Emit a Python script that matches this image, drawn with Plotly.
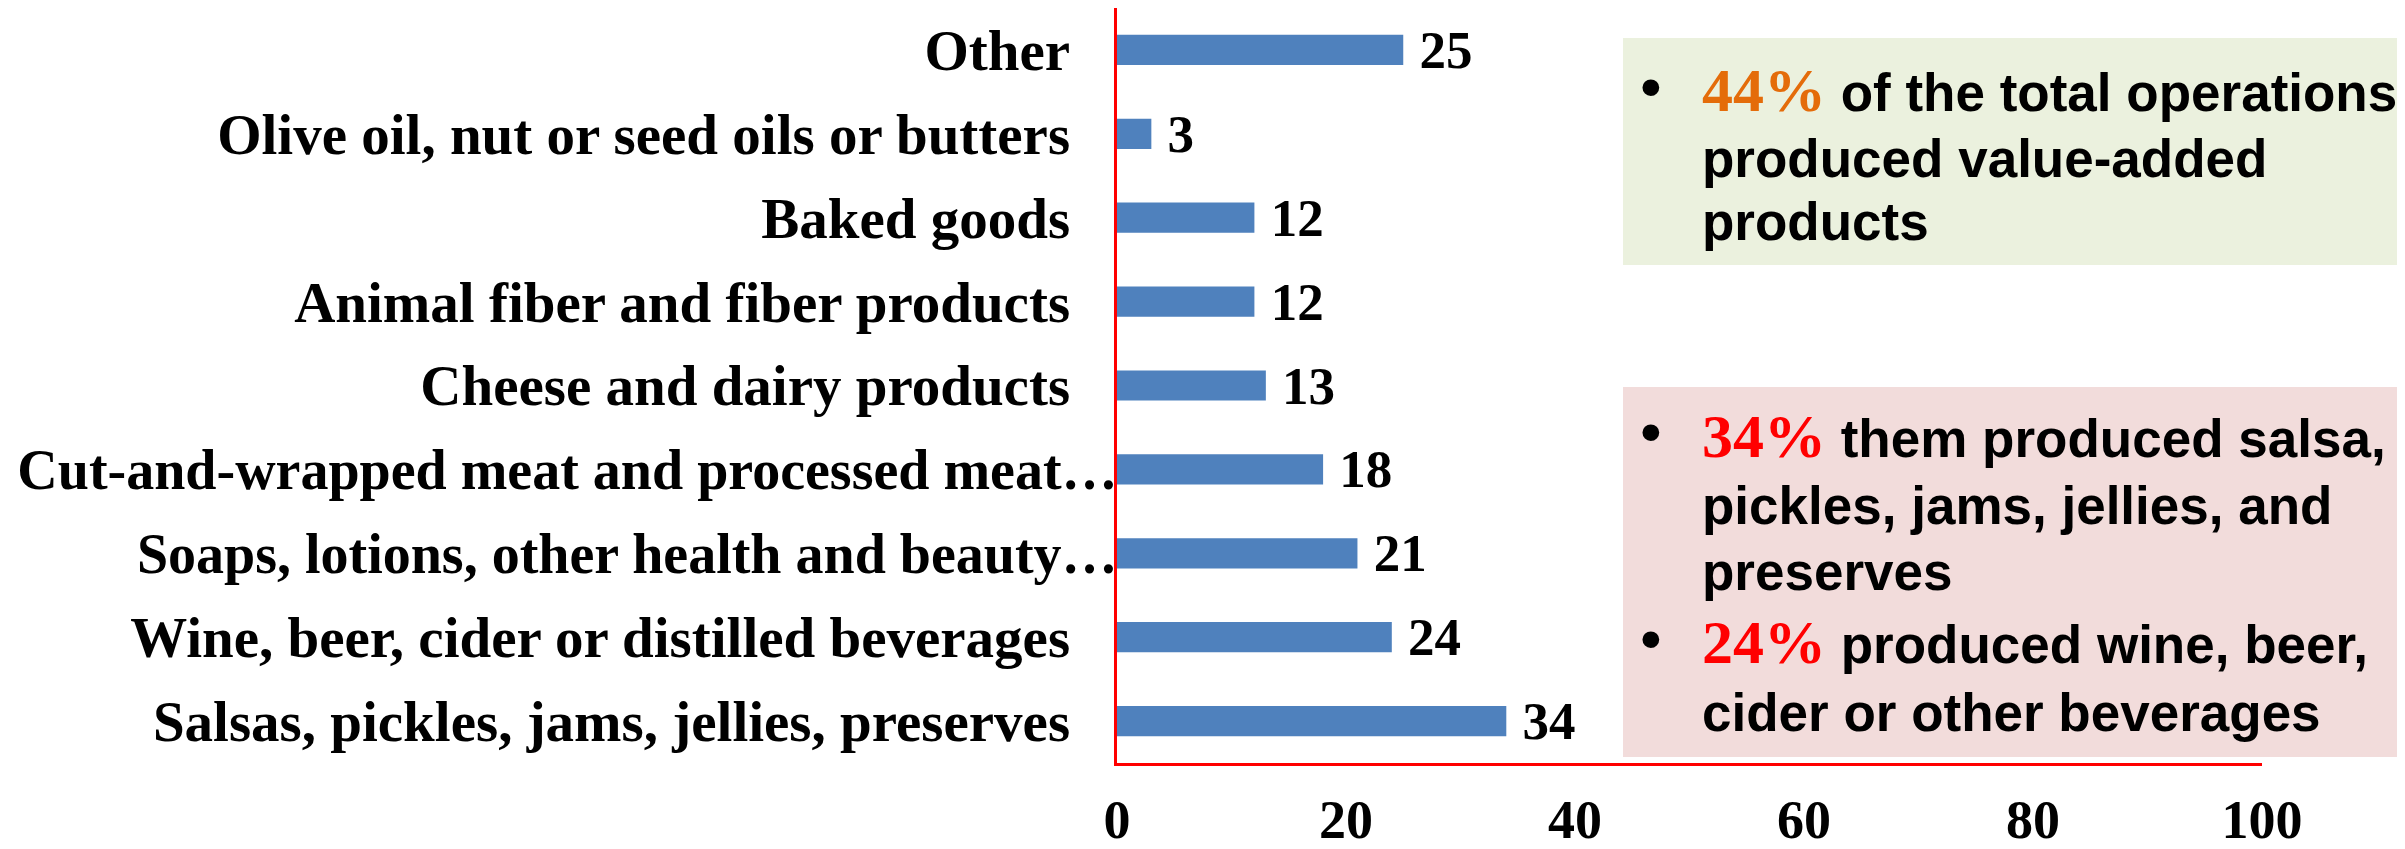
import plotly.graph_objects as go

# ---------------- data (bottom to top) ----------------
categories = [
    "Salsas, pickles, jams, jellies, preserves",
    "Wine, beer, cider or distilled beverages",
    "Soaps, lotions, other health and beauty…",
    "Cut-and-wrapped meat and processed meat…",
    "Cheese and dairy products",
    "Animal fiber and fiber products",
    "Baked goods",
    "Olive oil, nut or seed oils or butters",
    "Other",
]
values = [34, 24, 21, 18, 13, 12, 12, 3, 25]
x_ticks = [0, 20, 40, 60, 80, 100]

green_lines = [("44%", "of the total operations"), ("", "produced value-added"), ("", "products")]
pink_lines = [
    ("34%", "them produced salsa,"),
    ("", "pickles, jams, jellies, and"),
    ("", "preserves"),
    ("24%", "produced wine, beer,"),
    ("", "cider or other beverages"),
]
green_pct_color = "#E46C0A"
pink_pct_color = "#FF0000"

# ---------------- layout geometry ----------------
# page has an 8px body margin, so the figure is 8px smaller and all page
# coordinates below are converted to figure coordinates.
OFF = 8
FW, FH = 2405 - OFF, 849 - OFF
L, R, T, B = 1109, 143, 0, 86
pw, ph = FW - L - R, FH - T - B


def px_x(x_page):
    return (x_page - OFF - L) / pw


def px_y(y_page):
    return (FH - B - (y_page - OFF)) / ph


SERIF = "Liberation Serif, Times New Roman, serif"
SANS = "Liberation Sans, Arial, sans-serif"

pad = "\u2002\u2004"
ticktext = [
    f"<span style='font-size:56px'>{c}</span>" if c.endswith("…") else c + pad
    for c in categories
]

fig = go.Figure(
    go.Bar(
        y=categories,
        x=values,
        orientation="h",
        width=0.36,
        marker=dict(color="#4F81BD", line=dict(width=0)),
        text=values,
        texttemplate="\u00a0%{x}",
        textposition="outside",
        constraintext="none",
        textfont=dict(family=SERIF, size=53, color="black", weight="bold"),
        cliponaxis=False,
    )
)

fig.update_yaxes(
    type="category",
    tickmode="array",
    tickvals=categories,
    ticktext=ticktext,
    range=[-0.5, len(categories) - 0.5],
    tickfont=dict(family=SERIF, size=57, color="black", weight="bold"),
    showline=True,
    linecolor="#FF0000",
    linewidth=3,
    showgrid=False,
    zeroline=False,
    ticks="",
    ticklabelstandoff=-15,
)
fig.update_xaxes(
    range=[0, 100],
    tickmode="array",
    tickvals=x_ticks,
    tickfont=dict(family=SERIF, size=54, color="black", weight="bold"),
    showline=True,
    linecolor="#FF0000",
    linewidth=3,
    showgrid=False,
    zeroline=False,
    ticks="",
    ticklabelstandoff=7,
)

shapes = [
    dict(type="rect", xref="paper", yref="paper", layer="below",
         x0=px_x(1623), x1=px_x(2420), y0=px_y(265), y1=px_y(38),
         fillcolor="#EBF1DE", line=dict(width=0)),
    dict(type="rect", xref="paper", yref="paper", layer="below",
         x0=px_x(1623), x1=px_x(2420), y0=px_y(757), y1=px_y(387),
         fillcolor="#F2DCDB", line=dict(width=0)),
]

annotations = []


def add_lines(lines, baselines, pct_color):
    for (pct, txt), base in zip(lines, baselines):
        if pct:
            annotations.append(dict(
                xref="paper", yref="paper", x=px_x(1651), y=px_y(base - 22),
                xanchor="center", yanchor="middle", showarrow=False, text="•",
                font=dict(family=SANS, size=62, color="black"),
            ))
            label = (f"<span style='font-family:Liberation Serif;font-size:62px;color:{pct_color}'>"
                     f"{pct}</span> {txt}")
        else:
            label = txt
        annotations.append(dict(
            xref="paper", yref="paper", x=px_x(1700), y=px_y(base - 18),
            xanchor="left", yanchor="middle", showarrow=False, text=label,
            align="left", font=dict(family=SANS, size=53, color="black", weight="bold"),
        ))


add_lines(green_lines, [108, 176, 240], green_pct_color)
add_lines(pink_lines, [454, 524, 589, 660, 730], pink_pct_color)

fig.update_layout(
    width=FW,
    height=FH,
    margin=dict(l=L, r=R, t=T, b=B, autoexpand=False),
    paper_bgcolor="white",
    plot_bgcolor="rgba(0,0,0,0)",
    showlegend=False,
    shapes=shapes,
    annotations=annotations,
)

fig.write_html("out.html")
